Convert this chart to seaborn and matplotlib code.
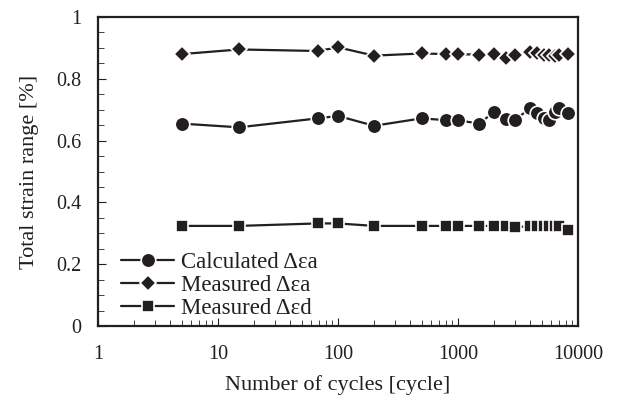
import numpy as np
import pandas as pd
import matplotlib
matplotlib.use("Agg")
import matplotlib.pyplot as plt
import seaborn as sns
from matplotlib.ticker import MultipleLocator, LogLocator, NullFormatter, FixedLocator, FuncFormatter

sns.set_style("ticks")
plt.rcParams['font.family'] = ['Liberation Serif', 'DejaVu Serif']

# ---- data ----
cycles = [5, 15, 68, 100, 200, 500, 800, 1000, 1500, 2000, 2500, 3000,
          4000, 4600, 5200, 5800, 6400, 7000, 8200]
calc_ea = [0.655, 0.643, 0.672, 0.680, 0.648, 0.672, 0.666, 0.666, 0.655,
           0.692, 0.669, 0.668, 0.704, 0.688, 0.672, 0.668, 0.694, 0.704, 0.688]
meas_ea = [0.880, 0.895, 0.890, 0.902, 0.875, 0.882, 0.880, 0.880, 0.878,
           0.880, 0.866, 0.877, 0.888, 0.882, 0.878, 0.876, 0.874, 0.876, 0.879]
meas_ed = [0.324, 0.324, 0.332, 0.332, 0.324, 0.324, 0.324, 0.324, 0.324,
           0.324, 0.324, 0.319, 0.324, 0.324, 0.324, 0.324, 0.324, 0.324, 0.311]

series = [
    ("Calculated \u0394\u03b5a", calc_ea, "o", 10.5),
    ("Measured \u0394\u03b5a", meas_ea, "D", 8.5),
    ("Measured \u0394\u03b5d", meas_ed, "s", 8),
]

fig = plt.figure(figsize=(6.2, 4.05), dpi=100)
ax = fig.add_axes([0.158, 0.195, 0.774, 0.763])

ink = "#231f20"
for label, vals, mk, ms in series:
    df = pd.DataFrame({"cycles": cycles, "strain": vals})
    sns.lineplot(data=df, x="cycles", y="strain", ax=ax, label=label,
                 color=ink, linewidth=1.6, marker=mk, markersize=ms,
                 markerfacecolor=ink, markeredgecolor="white",
                 markeredgewidth=1.2, estimator=None, sort=False)

ax.set_xscale("log")
ax.set_xlim(1, 10000)
ax.set_ylim(0, 1)
ax.xaxis.set_major_locator(FixedLocator([1, 10, 100, 1000, 10000]))
ax.xaxis.set_major_formatter(FuncFormatter(lambda v, p: f"{v:g}"))
ax.xaxis.set_minor_locator(LogLocator(base=10, subs=np.arange(2, 10)))
ax.xaxis.set_minor_formatter(NullFormatter())
ax.yaxis.set_major_locator(MultipleLocator(0.2))
ax.yaxis.set_minor_locator(MultipleLocator(0.05))
ax.yaxis.set_major_formatter(FuncFormatter(lambda v, p: f"{round(v, 1):g}"))

ax.tick_params(which="both", direction="in", colors=ink, labelsize=14.5,
               labelcolor=ink)
ax.tick_params(which="major", length=6, width=0.8)
ax.tick_params(which="minor", length=4, width=0.6)
ax.tick_params(axis="x", which="major", pad=14)
ax.tick_params(axis="y", which="major", pad=12)
for sp in ax.spines.values():
    sp.set_visible(True)
    sp.set_linewidth(1.6)
    sp.set_color(ink)

ax.set_xlabel("Number of cycles [cycle]", fontsize=16, color=ink, labelpad=8)
ax.set_ylabel("Total strain range [%]", fontsize=16, color=ink, labelpad=12)

leg = ax.legend(loc="lower left", frameon=False, fontsize=16.5, handlelength=2.3,
                handletextpad=0.3, labelspacing=0.1, borderaxespad=0.3,
                bbox_to_anchor=(0.015, -0.03))
for t in leg.get_texts():
    t.set_color(ink)

plt.savefig("out.png", dpi=100)
